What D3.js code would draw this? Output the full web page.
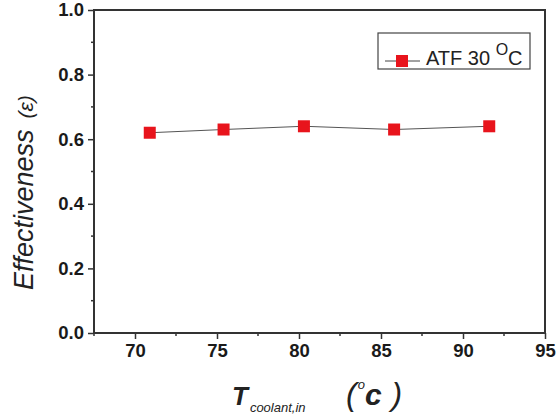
<!DOCTYPE html>
<html>
<head>
<meta charset="utf-8">
<script src="https://cdn.jsdelivr.net/npm/d3@7"></script>
<style>
  body { margin: 0; background: #fff; }
  svg { display: block; font-family: "Liberation Sans", Arial, sans-serif; }
</style>
</head>
<body>
<div class="chart"></div>
<script>
// data
const coolantTemp = [70.9, 75.4, 80.3, 85.8, 91.6];
const effectiveness = [0.62, 0.63, 0.64, 0.63, 0.64];
const seriesName = "ATF 30 ";
const xTicks = [70, 75, 80, 85, 90, 95];
const yTicks = [0.0, 0.2, 0.4, 0.6, 0.8, 1.0];

const width = 556, height = 414;
const margin = {top: 10, right: 11, bottom: 81, left: 94};

const svg = d3.select(".chart").append("svg")
    .attr("width", width)
    .attr("height", height);

const x = d3.scaleLinear().domain([67.5, 95]).range([margin.left, width - margin.right]);
const y = d3.scaleLinear().domain([0, 1]).range([height - margin.bottom, margin.top]);

const axisColor = "#333";

// minor ticks
const xMinor = d3.range(67.5, 95.01, 2.5).filter(v => v % 5 !== 0);
const yMinor = d3.range(0.1, 1, 0.2);

// x axis
const gx = svg.append("g")
    .attr("transform", `translate(0,${y(0)})`)
    .call(d3.axisBottom(x).tickValues(xTicks).tickSize(6).tickPadding(5).tickFormat(d3.format("d")));
gx.append("g").selectAll("line").data(xMinor).join("line")
    .attr("x1", d => x(d)).attr("x2", d => x(d))
    .attr("y1", 0).attr("y2", 3)
    .attr("stroke", axisColor).attr("stroke-width", 1.5);

// y axis
const gy = svg.append("g")
    .attr("transform", `translate(${x(67.5)},0)`)
    .call(d3.axisLeft(y).tickValues(yTicks).tickSize(6).tickPadding(4).tickFormat(d3.format(".1f")));
gy.append("g").selectAll("line").data(yMinor).join("line")
    .attr("y1", d => y(d)).attr("y2", d => y(d))
    .attr("x1", 0).attr("x2", -3)
    .attr("stroke", axisColor).attr("stroke-width", 1.5);

[gx, gy].forEach(g => {
  g.select(".domain").remove();
  g.selectAll(".tick line").attr("stroke", axisColor).attr("stroke-width", 1.5);
  g.selectAll(".tick text")
    .attr("fill", "#1a1a1a")
    .style("font-size", "18.5px")
    .style("font-weight", "bold");
});

// frame
svg.append("rect")
    .attr("x", x(67.5)).attr("y", y(1))
    .attr("width", x(95) - x(67.5)).attr("height", y(0) - y(1))
    .attr("fill", "none").attr("stroke", axisColor).attr("stroke-width", 2);

// line + markers
const line = d3.line().x((d, i) => x(coolantTemp[i])).y(d => y(d));
svg.append("path")
    .datum(effectiveness)
    .attr("d", line)
    .attr("fill", "none")
    .attr("stroke", "#555")
    .attr("stroke-width", 1);

const ms = 12;
svg.append("g").selectAll("rect").data(effectiveness).join("rect")
    .attr("x", (d, i) => x(coolantTemp[i]) - ms / 2)
    .attr("y", d => y(d) - ms / 2)
    .attr("width", ms).attr("height", ms)
    .attr("fill", "#e8141c");

// legend
const lg = svg.append("g").attr("transform", "translate(378,33)");
lg.append("rect")
    .attr("width", 152).attr("height", 36)
    .attr("fill", "#fff").attr("stroke", "#444").attr("stroke-width", 1.2);
lg.append("line")
    .attr("x1", 7).attr("x2", 42).attr("y1", 28).attr("y2", 28)
    .attr("stroke", "#444").attr("stroke-width", 1);
lg.append("rect")
    .attr("x", 24 - 6).attr("y", 28 - 6).attr("width", 12).attr("height", 12)
    .attr("fill", "#e8141c");
const lt = lg.append("text")
    .attr("x", 48).attr("y", 32)
    .attr("fill", "#222")
    .style("font-size", "20px");
lt.append("tspan").text(seriesName);
lt.append("tspan").attr("dy", -10).style("font-size", "16px").text("O");
lt.append("tspan").attr("dy", 10).text("C");

// y axis title
const yt = svg.append("text")
    .attr("transform", "translate(33,290) rotate(-90)")
    .attr("text-anchor", "start")
    .attr("fill", "#222")
    .style("font-style", "italic");
yt.append("tspan").style("font-size", "27px").text("Effectiveness");
yt.append("tspan").style("font-size", "21px").attr("dx", 11).text("(ε)");

// x axis title
const xt = svg.append("text")
    .attr("x", 232).attr("y", 405)
    .attr("fill", "#222")
    .style("font-style", "italic");
xt.append("tspan").style("font-size", "26px").style("font-weight", "bold").text("T");
xt.append("tspan").attr("dy", 7).attr("dx", 2).style("font-size", "13px").text("coolant,in");
xt.append("tspan").attr("dy", -7).attr("x", 346).style("font-size", "32px").text("(");
xt.append("tspan").attr("dy", -16).attr("dx", 1).style("font-size", "13px").text("o");
xt.append("tspan").attr("dy", 16).style("font-size", "30px").style("font-weight", "bold").text("c");
xt.append("tspan").attr("dx", 10).style("font-size", "32px").text(")");
</script>
</body>
</html>
